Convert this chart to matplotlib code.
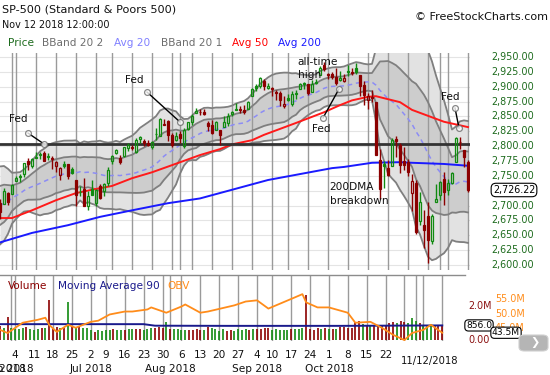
import numpy as np
import pandas as pd
import matplotlib
matplotlib.use("Agg")
import matplotlib.pyplot as plt
from matplotlib.transforms import blended_transform_factory
from matplotlib.patches import FancyBboxPatch

plt.rcParams['font.family'] = ['DejaVu Sans']

# ---------------- data ----------------
dates = ["2018-05-29","2018-05-30","2018-05-31","2018-06-01","2018-06-04","2018-06-05","2018-06-06","2018-06-07","2018-06-08",
         "2018-06-11","2018-06-12","2018-06-13","2018-06-14","2018-06-15","2018-06-18","2018-06-19","2018-06-20","2018-06-21","2018-06-22",
         "2018-06-25","2018-06-26","2018-06-27","2018-06-28","2018-06-29","2018-07-02","2018-07-03","2018-07-05","2018-07-06",
         "2018-07-09","2018-07-10","2018-07-11","2018-07-12","2018-07-13","2018-07-16","2018-07-17","2018-07-18","2018-07-19","2018-07-20",
         "2018-07-23","2018-07-24","2018-07-25","2018-07-26","2018-07-27","2018-07-30","2018-07-31","2018-08-01","2018-08-02","2018-08-03",
         "2018-08-06","2018-08-07","2018-08-08","2018-08-09","2018-08-10","2018-08-13","2018-08-14","2018-08-15","2018-08-16","2018-08-17",
         "2018-08-20","2018-08-21","2018-08-22","2018-08-23","2018-08-24","2018-08-27","2018-08-28","2018-08-29","2018-08-30","2018-08-31",
         "2018-09-04","2018-09-05","2018-09-06","2018-09-07","2018-09-10","2018-09-11","2018-09-12","2018-09-13","2018-09-14",
         "2018-09-17","2018-09-18","2018-09-19","2018-09-20","2018-09-21","2018-09-24","2018-09-25","2018-09-26","2018-09-27","2018-09-28",
         "2018-10-01","2018-10-02","2018-10-03","2018-10-04","2018-10-05","2018-10-08","2018-10-09","2018-10-10","2018-10-11","2018-10-12",
         "2018-10-15","2018-10-16","2018-10-17","2018-10-18","2018-10-19","2018-10-22","2018-10-23","2018-10-24","2018-10-25","2018-10-26",
         "2018-10-29","2018-10-30","2018-10-31","2018-11-01","2018-11-02","2018-11-05","2018-11-06","2018-11-07","2018-11-08","2018-11-09",
         "2018-11-12"]

opens = [2705.11,2702.43,2720.98,2718.70,2741.67,2748.46,2753.25,2774.84,2765.84,
         2780.18,2785.60,2787.94,2783.21,2777.78,2765.79,2752.01,2769.73,2769.28,2760.79,
         2742.94,2722.12,2728.45,2698.69,2727.13,2704.95,2733.27,2724.19,2737.68,
         2775.62,2788.56,2779.82,2783.14,2796.93,2796.56,2789.34,2811.35,2809.37,2804.55,
         2799.17,2820.68,2817.73,2835.49,2842.35,2819.00,2809.73,2821.17,2800.48,2829.62,
         2840.29,2855.92,2856.79,2857.19,2838.90,2835.46,2827.88,2827.95,2831.44,2838.32,
         2853.93,2861.51,2860.99,2860.29,2862.35,2884.69,2901.45,2900.62,2908.94,2898.37,
         2896.51,2891.59,2888.64,2868.26,2881.39,2871.57,2888.29,2896.85,2906.38,
         2903.83,2890.74,2906.60,2919.73,2936.76,2921.83,2921.75,2916.98,2911.65,2910.03,
         2926.29,2923.80,2931.69,2919.35,2902.54,2877.53,2882.51,2873.90,2776.87,2770.54,
         2763.83,2767.05,2811.67,2802.00,2775.66,2773.94,2721.03,2737.87,2674.88,2667.86,
         2682.65,2640.68,2705.60,2717.58,2745.45,2726.37,2738.40,2774.13,2806.38,2794.10,
         2773.93]
highs = [2710.67,2729.34,2722.50,2736.93,2749.16,2752.61,2772.39,2779.90,2779.39,
         2790.21,2789.80,2791.47,2789.06,2782.81,2774.99,2765.05,2774.86,2769.28,2764.17,
         2742.94,2732.91,2746.09,2724.34,2743.26,2727.26,2736.58,2737.83,2764.41,
         2784.65,2795.58,2785.91,2799.22,2804.53,2801.19,2814.19,2816.76,2812.05,2809.70,
         2808.61,2829.99,2848.03,2845.57,2843.17,2821.74,2824.46,2825.83,2829.91,2840.38,
         2853.29,2863.43,2862.44,2862.48,2842.20,2843.40,2843.11,2827.95,2850.49,2855.63,
         2859.76,2873.23,2867.54,2868.78,2876.16,2898.25,2903.77,2916.50,2912.46,2906.32,
         2900.18,2894.21,2892.05,2883.81,2886.93,2892.52,2894.65,2906.76,2908.30,
         2904.65,2911.17,2912.36,2934.80,2940.91,2923.79,2923.95,2931.15,2927.22,2920.53,
         2937.06,2931.42,2939.86,2919.78,2909.64,2889.45,2894.83,2874.02,2795.14,2775.77,
         2775.99,2813.46,2816.94,2806.04,2797.77,2778.94,2753.59,2742.59,2722.70,2692.38,
         2706.85,2685.43,2736.69,2741.67,2756.55,2744.27,2756.82,2815.15,2814.75,2794.10,
         2775.99]
lows = [2676.81,2702.43,2700.68,2718.70,2740.54,2739.51,2748.46,2760.16,2763.59,
        2780.17,2778.78,2774.65,2776.52,2761.73,2757.12,2743.19,2763.91,2744.39,2752.68,
        2698.67,2715.60,2699.38,2691.99,2718.03,2698.95,2711.16,2716.02,2733.52,
        2770.73,2786.24,2770.77,2781.53,2791.69,2793.39,2789.24,2805.89,2799.77,2800.01,
        2795.14,2811.12,2817.73,2835.26,2808.34,2798.11,2808.06,2805.85,2796.34,2827.37,
        2835.98,2855.92,2853.09,2851.98,2825.81,2819.88,2826.58,2802.49,2831.44,2833.73,
        2850.62,2861.32,2856.05,2854.03,2862.35,2884.69,2893.50,2898.40,2895.22,2895.77,
        2885.13,2876.92,2867.29,2864.12,2875.94,2866.78,2879.20,2896.39,2895.77,
        2886.16,2890.43,2903.82,2919.73,2927.11,2912.63,2913.70,2903.28,2909.27,2907.50,
        2917.91,2919.37,2921.36,2883.92,2869.29,2862.08,2874.27,2784.86,2710.51,2729.44,
        2749.03,2766.91,2781.81,2755.18,2760.27,2749.22,2691.43,2651.89,2667.84,2628.16,
        2603.54,2635.34,2705.60,2708.85,2700.44,2717.94,2737.08,2774.13,2794.99,2764.24,
        2722.00]
closes = [2689.86,2724.01,2705.27,2734.62,2746.87,2748.80,2772.35,2770.37,2779.03,
          2782.00,2786.85,2775.63,2782.49,2779.66,2773.75,2762.59,2767.32,2749.76,2754.88,
          2717.07,2723.06,2699.63,2716.31,2718.37,2726.71,2713.22,2736.61,2759.82,
          2784.17,2793.84,2774.02,2798.29,2801.31,2798.43,2809.55,2815.62,2804.49,2801.83,
          2806.98,2820.40,2846.07,2837.44,2818.82,2802.60,2816.29,2813.36,2827.22,2840.35,
          2850.40,2858.45,2857.70,2853.58,2833.28,2821.93,2839.96,2818.37,2840.69,2850.13,
          2857.05,2862.96,2861.82,2856.98,2874.69,2896.74,2897.52,2914.04,2901.13,2901.52,
          2896.72,2888.60,2878.05,2871.68,2877.13,2887.89,2888.92,2904.18,2904.98,
          2888.80,2904.31,2907.95,2930.75,2929.67,2919.37,2915.56,2905.97,2914.00,2913.98,
          2924.59,2923.43,2925.51,2901.61,2885.57,2884.43,2880.34,2785.68,2728.37,2767.13,
          2750.79,2809.92,2809.21,2768.78,2767.78,2755.88,2740.69,2656.10,2705.57,2658.69,
          2641.25,2682.63,2711.74,2740.37,2723.06,2738.31,2755.45,2813.89,2806.83,2781.01,
          2726.22]
# closes of the 19 sessions before the first candle (for the 20-day bands)
prior_closes = [2654.80,2635.67,2629.73,2663.42,2672.63,2671.92,2697.79,2723.07,2727.72,2730.13,
                2711.45,2722.46,2720.13,2712.97,2733.01,2724.44,2733.29,2727.76,2721.33]

volumes = [0.80,0.72,1.37,0.70,0.66,0.65,0.72,0.74,0.62,0.60,0.66,0.72,0.68,2.35,0.66,0.78,0.70,0.72,2.25,
           0.85,0.70,0.78,0.70,0.72,0.58,0.48,0.58,0.55,0.60,0.58,0.62,0.60,0.58,0.56,0.62,0.64,0.62,0.66,
           0.56,0.64,0.70,0.68,0.76,0.70,1.08,0.66,0.66,0.62,0.56,0.60,0.58,0.56,0.62,0.60,0.60,0.74,0.68,
           0.66,0.54,0.62,0.52,0.56,0.52,0.62,0.58,0.62,0.60,0.64,0.62,0.64,0.68,0.70,0.56,0.62,0.60,0.60,
           0.58,0.62,0.64,0.66,0.72,2.65,0.62,0.60,0.68,0.64,0.70,0.62,0.64,0.64,0.76,0.78,0.72,0.70,1.05,
           1.10,0.92,0.80,0.86,0.80,0.84,0.90,0.80,0.98,1.05,1.02,1.10,1.06,1.02,1.31,1.12,1.00,0.88,0.82,
           0.96,0.86,0.84,0.90]

ma50_idx = [0,3,8,14,19,24,28,33,38,43,50,55,58,63,66,74,81,85,88,92,94,100,103,111,117]
ma50_val = [2679,2679,2692,2709,2721,2728,2733,2746,2756,2768,2785,2795,2803,2810,2819,2839,2857,
            2869,2877,2883,2884,2874,2861,2841,2832]
ma200_idx = [0,8,17,25,33,42,50,67,83,86,93,100,103,111,117]
ma200_val = [2638,2654,2667,2681,2692,2704,2712,2743,2763,2765,2772,2773,2772,2770,2767]
vma90_idx = [0,38,41,60,90,117]
vma90_val = [0.93,0.93,0.84,0.83,0.83,0.856]
obv_idx = [0,2,6,10,12,13,15,18,20,24,26,29,33,35,39,40,44,48,49,53,55,62,65,68,71,78,80,81,84,87,
           92,94,98,101,104,107,109,112,114,117]
obv_val = [44.5,43.4,46.9,47.9,48.6,46.2,43.8,46.2,45.2,47.2,47.6,49.7,50.7,50.7,51.4,52.1,50.3,52.4,
           53.1,50.3,50.7,52.8,54.1,54.5,51.7,55.5,56.6,53.8,52.1,52.1,50.3,46.9,47.2,45.2,42.8,41.0,
           43.4,44.5,46.2,43.5]
support_level = 2803
price_ticks = [2600,2625,2650,2675,2700,2725,2750,2775,2800,2825,2850,2875,2900,2925,2950]
last_price = 2726.22

# ---------------- derived ----------------
n = len(closes)
idx = np.arange(n)
o = np.array(opens); h = np.array(highs); l = np.array(lows); c = np.array(closes)
allc = pd.Series(prior_closes + closes)
sma = allc.rolling(20).mean().values[len(prior_closes):]
sd = allc.rolling(20).std(ddof=0).values[len(prior_closes):]
prev = np.concatenate([[prior_closes[-1]], c[:-1]])
up = c >= prev
dts = pd.to_datetime(dates)

# ---------------- figure ----------------
W, H = 550, 375
fig = plt.figure(figsize=(W/100, H/100), dpi=100)
def rect(x0, y0, x1, y1):
    return [x0/W, 1 - y1/H, (x1 - x0)/W, (y1 - y0)/H]

ax = fig.add_axes(rect(0, 53, 470, 270))
ax.set_xlim(0, 117.5)
ax.set_ylim(2591.6, 2956.7)
for s in ax.spines.values():
    s.set_visible(False)
ax.set_xticks([]); ax.set_yticks([])

# horizontal grid
for p in price_ticks:
    ax.axhline(p, color='#e4e4e4', lw=0.8, zorder=0)
# vertical grid: first session of each week and of each month
grid_idx = [i for i in range(1, n) if dts[i].isocalendar()[1] != dts[i-1].isocalendar()[1]
            or dts[i].month != dts[i-1].month]
for i in grid_idx:
    ax.axvline(i, color='#9a9a9a', lw=1.0, zorder=2)

# bollinger bands
ax.fill_between(idx, sma - 2*sd, sma + 2*sd, color='#e2e2e2', lw=0, zorder=1)
ax.fill_between(idx, sma - sd, sma + sd, color='#cdcdcd', lw=0, zorder=1.1)
for k in (-2, -1, 1, 2):
    ax.plot(idx, sma + k*sd, color='#7f7f7f', lw=1.3, zorder=3)
ax.plot(idx, sma, color='#8c8cf5', lw=1.1, ls=(0, (3, 2.5)), zorder=3)
ax.plot(ma50_idx, ma50_val, color='#ff1a1a', lw=1.4, zorder=3.5)
ax.plot(ma200_idx, ma200_val, color='#1a1aff', lw=1.4, zorder=3.5)
ax.axhline(support_level, color='#333333', lw=2.0, zorder=3.6)

# candles
green, red = '#108a10', '#8b0000'
for i in range(n):
    col = green if up[i] else red
    lo_b, hi_b = min(o[i], c[i]), max(o[i], c[i])
    ax.vlines(i, l[i], lo_b, color=col, lw=1.0, zorder=4)
    ax.vlines(i, hi_b, h[i], color=col, lw=1.0, zorder=4)
    hollow = c[i] > o[i]
    ax.bar(i, max(hi_b - lo_b, 0.6), bottom=lo_b, width=0.7,
           facecolor='none' if hollow else col, edgecolor=col, lw=0.9, zorder=5)

# annotations
def note_line(x0, y0, x1, y1):
    ax.plot([x0, x1], [y0, y1], color='black', lw=1.0, zorder=6)
    ax.plot([x0, x1], [y0, y1], ls='none', marker='o', ms=4.2, mfc='#ffffff', mec='#6a6a6a', mew=0.9, zorder=7, alpha=0.8)
tkw = dict(fontsize=7.6, color='#111111', zorder=8)
ax.text(4.5, 2845.7, 'Fed', ha='center', va='center', **tkw)
note_line(7.0, 2822, 11.0, 2803.6)
ax.text(33.6, 2912, 'Fed', ha='center', va='center', **tkw)
note_line(36.75, 2891, 45.0, 2840.6)
ax.text(74.4, 2941.6, 'all-time', ha='left', va='center', **tkw)
ax.text(74.4, 2919.7, 'high', ha='left', va='center', **tkw)
ax.text(80.4, 2828.8, 'Fed', ha='center', va='center', **tkw)
note_line(80.75, 2847.4, 84.75, 2896.2)
ax.text(112.5, 2882.7, 'Fed', ha='center', va='center', **tkw)
note_line(113.75, 2864.2, 114.75, 2830.5)
ax.text(82.4, 2731.3, '200DMA', ha='left', va='center', **tkw)
ax.text(82.4, 2707.7, 'breakdown', ha='left', va='center', **tkw)

# right price axis labels
tr = blended_transform_factory(ax.transAxes, ax.transData)
for p in price_ticks:
    if p == 2725:
        continue
    ax.text(491/470, p, f"{p:,.2f}", transform=tr, ha='left', va='center',
            fontsize=6.9, color='#1d6b1d', clip_on=False)
ax.text(514/470, last_price, f"{last_price:,.2f}", transform=tr, ha='center', va='center',
        fontsize=6.9, color='black', clip_on=False,
        bbox=dict(boxstyle='round,pad=0.18,rounding_size=0.5', fc='white', ec='black', lw=0.8))

# ---------------- volume panel ----------------
axv = fig.add_axes(rect(0, 275, 465, 341))
px_per_day = 3.78
axv.set_xlim(0, 465/px_per_day)
axv.set_ylim(-0.06, 3.82)
for k, s in axv.spines.items():
    s.set_visible(k == 'top')
axv.spines['top'].set_color('#8c8c8c')
axv.spines['top'].set_linewidth(1.0)
axv.set_xticks([]); axv.set_yticks([])
for i in grid_idx:
    axv.axvline(i, color='#9a9a9a', lw=1.0, zorder=1)
vol_cols = [green if u else red for u in up]
axv.vlines(idx, 0, volumes, colors=vol_cols, lw=1.2, zorder=3)
axv.plot(vma90_idx, vma90_val, color='#1a1a8c', lw=1.4, zorder=4)

axo = axv.twinx()
axo.set_ylim(40.7, 63.1)
axo.set_xlim(axv.get_xlim())
for s in axo.spines.values():
    s.set_visible(False)
axo.set_xticks([]); axo.set_yticks([])
axo.plot(obv_idx, obv_val, color='#ff8c1a', lw=1.3, zorder=5)

trv = blended_transform_factory(axv.transAxes, axv.transData)
axv.text(468/465, 2.0, '2.0M', transform=trv, ha='left', va='center', fontsize=6.9, color='#8b1010', clip_on=False)
axv.text(468/465, 0.0, '0.00', transform=trv, ha='left', va='center', fontsize=6.9, color='#8b1010', clip_on=False)
axv.text(479/465, vma90_val[-1], '856.0', transform=trv, ha='center', va='center', fontsize=6.6, color='black',
         clip_on=False, zorder=10,
         bbox=dict(boxstyle='round,pad=0.12,rounding_size=0.4', fc='white', ec='black', lw=0.8))
tro = blended_transform_factory(axo.transAxes, axo.transData)
for v in (55.0, 50.0, 45.0):
    axo.text(495/465, v, f"{v:.1f}M", transform=tro, ha='left', va='center', fontsize=6.9,
             color='#ff8c1a', clip_on=False)
axo.text(506/465, obv_val[-1], f"{obv_val[-1]:.1f}M", transform=tro, ha='center', va='center', fontsize=6.6,
         color='black', clip_on=False, zorder=10,
         bbox=dict(boxstyle='round,pad=0.12,rounding_size=0.4', fc='white', ec='black', lw=0.8))

# legends in panels
def legend_row(y, items):
    for x, txt, col in items:
        fig.text(x/W, 1 - y/H, txt, ha='left', va='center', fontsize=7.6, color=col)
legend_row(43, [(8, 'Price', '#1d6b1d'), (42, 'BBand 20 2', '#6e6e6e'), (114, 'Avg 20', '#8080ff'),
                (161, 'BBand 20 1', '#6e6e6e'), (232, 'Avg 50', '#ff0000'), (278, 'Avg 200', '#1a1aff')])
legend_row(286, [(8, 'Volume', '#8b0000'), (58, 'Moving Average 90', '#1a1a8c'), (167, 'OBV', '#ff8c1a')])

# titles
fig.text(2/W, 1 - 10/H, 'SP-500 (Standard & Poors 500)', ha='left', va='center', fontsize=8.1, color='#111111')
fig.text(2/W, 1 - 25/H, 'Nov 12 2018 12:00:00', ha='left', va='center', fontsize=6.9, color='#111111')
fig.text(548/W, 1 - 17/H, '\u00a9 FreeStockCharts.com', ha='right', va='center', fontsize=8.0, color='#111111')

# date labels (lower panel scale)
trd = blended_transform_factory(axv.transData, fig.transFigure)
week_starts = [i for i in range(1, n) if dts[i].isocalendar()[1] != dts[i-1].isocalendar()[1]]
for i in week_starts:
    if i >= 105:
        continue
    axv.text(i, 1 - 355/H, str(dts[i].day), transform=trd, ha='center', va='center', fontsize=7.6,
             color='#111111', clip_on=False)
month_starts = [0] + [i for i in range(1, n) if dts[i].month != dts[i-1].month and dts[i].month <= 10]
for i in month_starts:
    axv.text(i, 1 - 369/H, dts[i].strftime('%b %Y'), transform=trd, ha='center', va='center', fontsize=7.6,
             color='#111111', clip_on=False)
fig.text(430/W, 1 - 361/H, dts[-1].strftime('%m/%d/%Y'), ha='center', va='center', fontsize=7.2, color='#111111')

# scroll button
btn = FancyBboxPatch((519/W, 1 - 351/H), 29/W, 16/H, boxstyle='round,pad=0,rounding_size=0.01',
                     transform=fig.transFigure, fc='#b5b5b5', ec='#d0d0d0', lw=0.8)
fig.add_artist(btn)
fig.text(535/W, 1 - 343/H, '\u276f', ha='center', va='center', fontsize=8, color='white')

fig.savefig('out.png', dpi=100)
